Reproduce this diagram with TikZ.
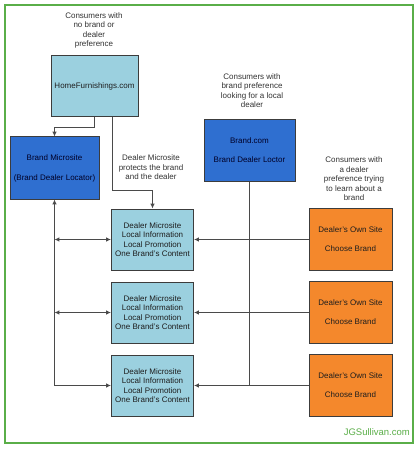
\documentclass[tikz,border=0pt]{standalone}
\usepackage{fontspec}
\setmainfont{Liberation Sans}
\usetikzlibrary{arrows.meta}
\definecolor{lb}{HTML}{9BD0DF}
\definecolor{bb}{HTML}{2F6FD0}
\definecolor{ob}{HTML}{F4882C}
\definecolor{gb}{HTML}{5AAE48}
\definecolor{bd}{HTML}{3C3C3C}
\definecolor{ln}{HTML}{4A4A4A}
\definecolor{tx}{HTML}{1E1E1E}
\definecolor{ct}{HTML}{333333}
\tikzset{
  box/.style={draw=bd, line width=1pt, inner sep=0pt, align=center,
    font=\fontsize{8}{9.5}\selectfont, text=tx},
  lbox/.style={box, fill=lb, minimum width=82pt, minimum height=61pt},
  bbox/.style={box, fill=bb, text=black!85!blue},
  obox/.style={box, fill=ob, minimum width=83pt, minimum height=62pt},
  ctext/.style={inner sep=0pt, align=center, font=\fontsize{8}{9.5}\selectfont, text=ct},
  tip/.tip={Latex[length=4.8pt,width=4.4pt]},
  conn/.style={draw=ln, line width=0.9pt},
  arr/.style={conn, -tip},
  darr/.style={conn, tip-tip},
}
\begin{document}
\begin{tikzpicture}[x=1pt,y=-1pt]
\fill[white] (0,0) rectangle (419,449);
\useasboundingbox (0,0) rectangle (419,449);
\draw[gb, line width=1.2pt] (5,5) rectangle (413,443);

\node[ctext] (t1) at (94,30.5) {Consumers with\\no brand or\\dealer\\preference};
\node[ctext] (t2) at (252,90.5) {Consumers with\\brand preference\\looking for a local\\dealer};
\node[ctext] (t3) at (354,179) {Consumers with\\a dealer\\preference trying\\to learn about a\\brand};
\node[ctext] (t4) at (151,167.5) {Dealer Microsite\\protects the brand\\and the dealer};

\node[box, fill=lb, minimum width=87pt, minimum height=61pt] (hf) at (94.5,86.5) {HomeFurnishings.com};
\node[bbox, minimum width=89pt, minimum height=62pt] (bm) at (54.5,168) {Brand Microsite\\[10.5pt](Brand Dealer Locator)};
\node[bbox, minimum width=91pt, minimum height=61pt] (bc) at (249.5,150.5) {Brand.com\\[9.5pt]Brand Dealer Loctor};

\node[lbox] (dm1) at (152.5,239.5) {Dealer Microsite\\Local Information\\Local Promotion\\One Brand's Content};
\node[lbox] (dm2) at (152.5,312.5) {Dealer Microsite\\Local Information\\Local Promotion\\One Brand's Content};
\node[lbox] (dm3) at (152.5,385.5) {Dealer Microsite\\Local Information\\Local Promotion\\One Brand's Content};

\node[obox] (os1) at (350.5,239.5) {Dealer's Own Site\\[9.5pt]Choose Brand};
\node[obox] (os2) at (350.5,312.5) {Dealer's Own Site\\[9.5pt]Choose Brand};
\node[obox] (os3) at (350.5,385.5) {Dealer's Own Site\\[9.5pt]Choose Brand};

\node[anchor=east, inner sep=0pt, text=gb, font=\fontsize{9.5}{11}\selectfont] (jg) at (410,432) {JGSullivan.com};

\draw[arr] (hf.south) -- ++(0,10) -| (bm.north);
\draw[arr] ([xshift=17.5pt]hf.south) -- ++(0,73) -| (dm1.north);
\draw[darr] (bm.south) |- (dm3.west);
\draw[darr] (bm.south |- dm1.west) -- (dm1.west);
\draw[darr] (bm.south |- dm2.west) -- (dm2.west);
\draw[arr] (os1.west) -- (dm1.east);
\draw[arr] (os2.west) -- (dm2.east);
\draw[arr] (os3.west) -- (dm3.east);
\draw[conn] (bc.south) -- (bc.south |- dm3.east);
\end{tikzpicture}
\end{document}
